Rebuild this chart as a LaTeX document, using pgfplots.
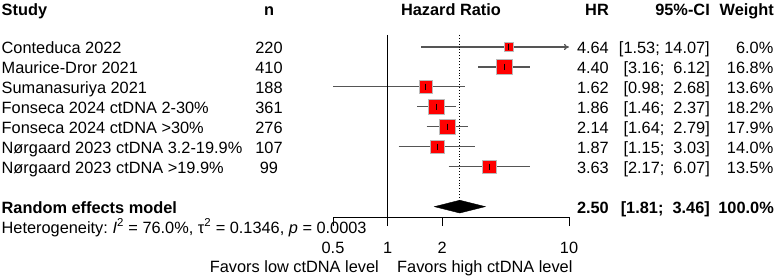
\documentclass[border=0pt]{standalone}
\usepackage{pgfplots}
\pgfplotsset{compat=1.18}
\usepackage{pgfplotstable}
\usetikzlibrary{arrows.meta}
\usepackage{fontspec}
\setmainfont{Liberation Sans}
\definecolor{cigray}{HTML}{555555}
\definecolor{sqborder}{HTML}{BBBBBB}
\pgfplotstableread{
row hr lo hi w
1 4.64 1.53 14.07 6.0
2 4.40 3.16 6.12 16.8
3 1.62 0.98 2.68 13.6
4 1.86 1.46 2.37 18.2
5 2.14 1.64 2.79 17.9
6 1.87 1.15 3.03 14.0
7 3.63 2.17 6.07 13.5
}\studies
\newcommand\fs{\fontsize{16.4}{19.7}\selectfont}
\frenchspacing
\begin{document}
\begin{tikzpicture}
\begin{axis}[
  scale only axis, width=236bp, height=182bp,
  xmode=log, xmin=0.5, xmax=10, ymin=-9.52, ymax=-0.398,
  axis x line=bottom, axis y line=none,
  x axis line style={-, black, line width=0.9bp},
  xtick={0.5,1,2,10}, xticklabels={0.5,1,2,10},
  xminorticks=false,
  tick align=outside, major tick length=9bp,
  tick style={black, line width=0.9bp},
  xticklabel style={font=\fs, anchor=base, yshift=-27.8bp, inner sep=0pt},
  /pgf/number format/assume math mode=true,
  clip=false,
]
% CI lines
\addplot[cigray, line width=1.1bp, -{To[length=5bp,width=6bp]}] coordinates {(1.53,-1) (10,-1)};
\addplot[cigray, line width=1.1bp] coordinates {(3.16,-2) (6.12,-2)};
\addplot[cigray, line width=1.1bp] coordinates {(0.5,-3) (2.68,-3)};
\addplot[cigray, line width=1.1bp] coordinates {(1.46,-4) (2.37,-4)};
\addplot[cigray, line width=1.1bp] coordinates {(1.64,-5) (2.79,-5)};
\addplot[cigray, line width=1.1bp] coordinates {(1.15,-6) (3.03,-6)};
\addplot[cigray, line width=1.1bp] coordinates {(2.17,-7) (6.07,-7)};
% reference lines
\addplot[black, line width=0.9bp] coordinates {(1,-0.398) (1,-9.52)};
\addplot[black, dotted, line width=0.9bp] coordinates {(2.50,-0.398) (2.50,-8.68)};
% squares
\addplot[scatter, only marks, mark=square*,
  scatter/use mapped color={draw=sqborder, fill=red},
  mark options={line width=0.6bp},
  visualization depends on={1.85*sqrt(\thisrow{w}) \as \msize},
  scatter/@pre marker code/.append style={/tikz/mark size=\msize},
] table[x=hr, y expr=-\thisrow{row}] {\studies};
\addplot[only marks, mark=|, mark size=3.2bp, mark options={draw=black, line width=0.45bp}]
  table[x=hr, y expr=-\thisrow{row}] {\studies};
% diamond
\addplot[fill=black, draw=black] coordinates {(1.81,-9) (2.50,-8.68) (3.46,-9) (2.50,-9.32)} -- cycle;
\coordinate (P0) at ([xshift=-333bp, yshift=217bp]axis cs:0.5,-9.52);
\end{axis}
\pgfresetboundingbox
\begin{scope}[shift={(P0)}, x=1bp, y=-1bp, every node/.style={font=\fs, inner sep=0pt}]
\useasboundingbox (0,0) rectangle (776,278);
% header
\node[anchor=base west] at (1.5,15) {\bfseries Study};
\node[anchor=base] at (269,15) {\bfseries n};
\node[anchor=base] at (451,15) {\bfseries Hazard Ratio};
\node[anchor=base east] at (609,15) {\bfseries HR};
\node[anchor=base east] at (710,15) {\bfseries 95\%-CI};
\node[anchor=base east] at (774,15) {\bfseries Weight};
% rows
\foreach \i/\name/\n/\hr/\ci/\w in {
  1/Conteduca 2022/220/4.64/{[1.53; 14.07]}/6.0\%,
  2/Maurice-Dror 2021/410/4.40/{[3.16;\ \ 6.12]}/16.8\%,
  3/Sumanasuriya 2021/188/1.62/{[0.98;\ \ 2.68]}/13.6\%,
  4/Fonseca 2024 ctDNA 2-30\%/361/1.86/{[1.46;\ \ 2.37]}/18.2\%,
  5/Fonseca 2024 ctDNA >30\%/276/2.14/{[1.64;\ \ 2.79]}/17.9\%,
  6/Nørgaard 2023 ctDNA 3.2-19.9\%/107/1.87/{[1.15;\ \ 3.03]}/14.0\%,
  7/Nørgaard 2023 ctDNA >19.9\%/99/3.63/{[2.17;\ \ 6.07]}/13.5\%}{
  \pgfmathsetmacro\b{53.3+19.95*(\i-1)}
  \node[anchor=base west] at (1.5,\b) {\name};
  \node[anchor=base] at (269,\b) {\n};
  \node[anchor=base east] at (609,\b) {\hr};
  \node[anchor=base east] at (710,\b) {\ci};
  \node[anchor=base east] at (773.5,\b) {\w};
}
% random effects
\node[anchor=base west] at (1.5,213.3) {\bfseries Random effects model};
\node[anchor=base east] at (609,213.3) {\bfseries 2.50};
\node[anchor=base east] at (710,213.3) {\bfseries [1.81;\ \ 3.46]};
\node[anchor=base east] at (774,213.3) {\bfseries 100.0\%};
\node[anchor=base west] at (1.5,233) {Heterogeneity: \textit{I}\textsuperscript{2} = 76.0\%, τ\textsuperscript{2} = 0.1346, \textit{p} = 0.0003};
% favors
\node[anchor=base east] at (379,272.7) {Favors low ctDNA level};
\node[anchor=base west] at (397,272.7) {Favors high ctDNA level};
\end{scope}
\end{tikzpicture}
\end{document}
